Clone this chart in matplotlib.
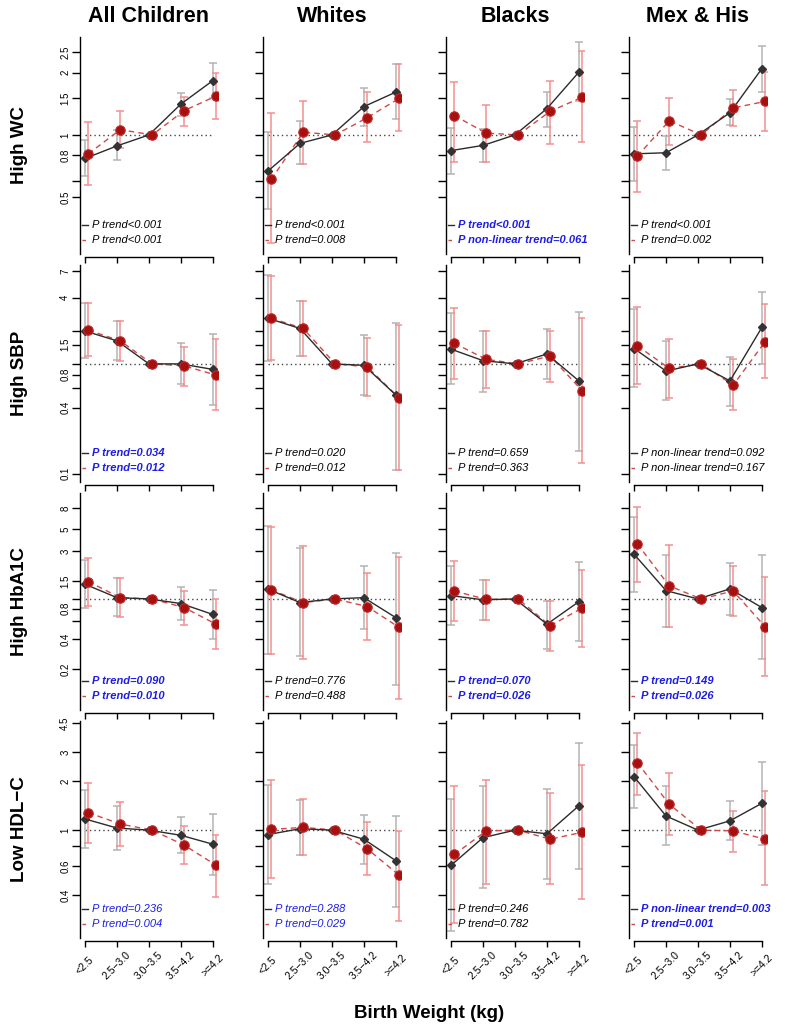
import numpy as np
import matplotlib
matplotlib.use("Agg")
import matplotlib.pyplot as plt
from matplotlib.ticker import FixedLocator, NullLocator

plt.rcParams['font.family'] = ['Liberation Sans', 'DejaVu Sans']

groups = ["All Children", "Whites", "Blacks", "Mex & His"]
outcomes = ["High WC", "High SBP", "High HbA1C", "Low HDL\u2212C"]
bw_labels = ["<2.5", "2.5\u22123.0", "3.0\u22123.5", "3.5\u22124.2", ">=4.2"]
_ = None  # reference category, no interval

# High WC -- model 1 (black) and model 2 (red), one list per group
wc_or1 = [[0.77, 0.885, 1, 1.41, 1.83], [0.67, 0.91, 1, 1.37, 1.61],
          [0.84, 0.89, 1, 1.34, 2.01], [0.81, 0.82, 1, 1.28, 2.09]]
wc_lo1 = [[0.63, 0.76, _, 1.24, 1.50], [0.44, 0.72, _, 1.11, 1.19],
          [0.65, 0.74, _, 1.09, 1.45], [0.60, 0.68, _, 1.12, 1.62]]
wc_hi1 = [[0.95, 1.06, _, 1.59, 2.22], [1.03, 1.17, _, 1.68, 2.20],
          [1.08, 1.07, _, 1.62, 2.82], [1.09, 0.99, _, 1.49, 2.69]]
wc_or2 = [[0.81, 1.06, 1, 1.31, 1.54], [0.61, 1.03, 1, 1.21, 1.50],
          [1.24, 1.02, 1, 1.30, 1.52], [0.79, 1.17, 1, 1.35, 1.45]]
wc_lo2 = [[0.57, 0.86, _, 1.11, 1.19], [0.30, 0.72, _, 0.92, 1.04],
          [0.74, 0.74, _, 0.90, 0.92], [0.53, 0.89, _, 1.10, 1.05]]
wc_hi2 = [[1.16, 1.31, _, 1.53, 1.99], [1.28, 1.45, _, 1.61, 2.20],
          [1.81, 1.40, _, 1.83, 2.53], [1.17, 1.50, _, 1.64, 2.02]]

# High SBP
sbp_or1 = [[1.99, 1.62, 1, 1.00, 0.89], [2.60, 2.10, 1, 0.97, 0.52],
           [1.36, 1.07, 1, 1.23, 0.70], [1.38, 0.86, 1, 0.70, 2.15]]
sbp_lo1 = [[1.14, 1.08, _, 0.65, 0.42], [1.07, 1.18, _, 0.52, 0.109],
           [0.65, 0.56, _, 0.73, 0.16], [0.61, 0.47, _, 0.41, 1.00]]
sbp_hi1 = [[3.56, 2.45, _, 1.54, 1.87], [6.40, 3.76, _, 1.83, 2.34],
           [2.88, 2.00, _, 2.06, 2.98], [3.14, 1.62, _, 1.16, 4.54]]
sbp_or2 = [[2.03, 1.62, 1, 0.96, 0.79], [2.60, 2.10, 1, 0.94, 0.49],
           [1.54, 1.10, 1, 1.18, 0.57], [1.46, 0.91, 1, 0.64, 1.59]]
sbp_lo2 = [[1.18, 1.07, _, 0.63, 0.38], [1.08, 1.18, _, 0.51, 0.107],
           [0.73, 0.60, _, 0.69, 0.126], [0.65, 0.49, _, 0.38, 0.74]]
sbp_hi2 = [[3.56, 2.47, _, 1.43, 1.67], [6.30, 3.76, _, 1.73, 2.25],
           [3.20, 2.00, _, 2.00, 2.60], [3.27, 1.70, _, 1.10, 3.48]]

# High HbA1C
hba_or1 = [[1.40, 1.03, 1, 0.90, 0.70], [1.25, 0.92, 1, 1.03, 0.65],
           [1.08, 0.98, 1, 0.56, 0.94], [2.79, 1.21, 1, 1.26, 0.82]]
hba_lo1 = [[0.82, 0.67, _, 0.62, 0.40], [0.28, 0.27, _, 0.50, 0.14],
           [0.55, 0.62, _, 0.32, 0.38], [1.18, 0.53, _, 0.69, 0.25]]
hba_hi1 = [[2.45, 1.61, _, 1.33, 1.23], [5.36, 3.20, _, 2.14, 2.90],
           [2.14, 1.55, _, 0.95, 2.32], [6.60, 2.75, _, 2.27, 2.75]]
hba_or2 = [[1.49, 1.03, 1, 0.82, 0.56], [1.23, 0.92, 1, 0.84, 0.52],
           [1.20, 0.99, 1, 0.54, 0.81], [3.54, 1.35, 1, 1.20, 0.53]]
hba_lo2 = [[0.86, 0.66, _, 0.55, 0.32], [0.28, 0.25, _, 0.39, 0.10],
           [0.60, 0.62, _, 0.30, 0.33], [1.49, 0.52, _, 0.67, 0.17]]
hba_hi2 = [[2.58, 1.62, _, 1.20, 1.00], [5.19, 3.40, _, 1.80, 2.64],
           [2.40, 1.55, _, 0.95, 1.95], [8.30, 3.46, _, 2.14, 1.64]]

# Low HDL-C
hdl_or1 = [[1.17, 1.03, 1, 0.93, 0.82], [0.94, 1.02, 1, 0.88, 0.65],
           [0.61, 0.90, 1, 0.95, 1.41], [2.12, 1.22, 1, 1.14, 1.46]]
hdl_lo1 = [[0.78, 0.76, _, 0.72, 0.53], [0.47, 0.70, _, 0.62, 0.34],
           [0.24, 0.44, _, 0.50, 0.58], [1.36, 0.81, _, 0.87, 0.81]]
hdl_hi1 = [[1.76, 1.40, _, 1.21, 1.25], [1.88, 1.52, _, 1.23, 1.22],
           [1.54, 1.86, _, 1.78, 3.41], [3.31, 1.86, _, 1.50, 2.61]]
hdl_or2 = [[1.28, 1.09, 1, 0.81, 0.61], [1.01, 1.04, 1, 0.77, 0.53],
           [0.71, 0.99, 1, 0.88, 0.97], [2.59, 1.44, 1, 0.99, 0.88]]
hdl_lo2 = [[0.84, 0.80, _, 0.62, 0.39], [0.51, 0.70, _, 0.53, 0.28],
           [0.27, 0.47, _, 0.47, 0.38], [1.65, 0.94, _, 0.74, 0.46]]
hdl_hi2 = [[1.93, 1.49, _, 1.06, 0.93], [2.02, 1.56, _, 1.12, 0.99],
           [1.86, 2.02, _, 1.68, 2.52], [3.95, 2.24, _, 1.31, 1.73]]

# p-value annotations; style 0 = black, 1 = blue, 2 = blue bold
wc_p = [("P trend<0.001", "P trend<0.001"), ("P trend<0.001", "P trend=0.008"),
        ("P trend<0.001", "P non-linear trend=0.061"), ("P trend<0.001", "P trend=0.002")]
sbp_p = [("P trend=0.034", "P trend=0.012"), ("P trend=0.020", "P trend=0.012"),
         ("P trend=0.659", "P trend=0.363"),
         ("P non-linear trend=0.092", "P non-linear trend=0.167")]
hba_p = [("P trend=0.090", "P trend=0.010"), ("P trend=0.776", "P trend=0.488"),
         ("P trend=0.070", "P trend=0.026"), ("P trend=0.149", "P trend=0.026")]
hdl_p = [("P trend=0.236", "P trend=0.004"), ("P trend=0.288", "P trend=0.029"),
         ("P trend=0.246", "P trend=0.782"),
         ("P non-linear trend=0.003", "P trend=0.001")]
wc_sig = [0, 0, 2, 0]
sbp_sig = [2, 0, 0, 0]
hba_sig = [2, 0, 2, 2]
hdl_sig = [1, 1, 0, 2]

wc_ticks = [0.5, 0.6, 0.8, 1, 1.5, 2, 2.5]
wc_tlab = ["0.5", "", "0.8", "1", "1.5", "2", "2.5"]
sbp_ticks = [0.1, 0.4, 0.6, 0.8, 1, 1.5, 2, 4, 7]
sbp_tlab = ["0.1", "0.4", "", "0.8", "", "1.5", "", "4", "7"]
hba_ticks = [0.2, 0.4, 0.6, 0.8, 1, 1.5, 3, 5, 8]
hba_tlab = ["0.2", "0.4", "", "0.8", "", "1.5", "3", "5", "8"]
hdl_ticks = [0.4, 0.6, 0.8, 1, 2, 3, 4.5]
hdl_tlab = ["0.4", "0.6", "", "1", "2", "3", "4.5"]

rows = [
    (wc_or1, wc_lo1, wc_hi1, wc_or2, wc_lo2, wc_hi2, wc_p, wc_sig, wc_ticks, wc_tlab, (0.266, 2.97)),
    (sbp_or1, sbp_lo1, sbp_hi1, sbp_or2, sbp_lo2, sbp_hi2, sbp_p, sbp_sig, sbp_ticks, sbp_tlab, (0.084, 7.95)),
    (hba_or1, hba_lo1, hba_hi1, hba_or2, hba_lo2, hba_hi2, hba_p, hba_sig, hba_ticks, hba_tlab, (0.078, 11.4)),
    (hdl_or1, hdl_lo1, hdl_hi1, hdl_or2, hdl_lo2, hdl_hi2, hdl_p, hdl_sig, hdl_ticks, hdl_tlab, (0.219, 4.65)),
]

W, H = 786, 1036
fig = plt.figure(figsize=(W / 100, H / 100), dpi=100)

C_BLK = '#2b2b2b'
C_BLK_ERR = '#b4b4b4'
C_RED = '#d04848'
C_RED_PT = '#a81010'
C_RED_ERR = '#f29090'
C_BLUE = '#1c1ce6'

xpos = np.arange(1, len(bw_labels) + 1)
shift = 0.1

for r, (or1, lo1, hi1, or2, lo2, hi2, ptxt, psig, yt, ytl, ylim) in enumerate(rows):
    for c in range(len(groups)):
        left = 80 + 183 * c
        top = 37 + 228 * r
        ax = fig.add_axes([left / W, 1 - (top + 217) / H, 138 / W, 217 / H])
        ax.set_yscale('log')
        ax.set_xlim(0.84, 5.16)
        ax.set_ylim(*ylim)

        # reference line at OR = 1
        ax.plot([xpos[0], xpos[-1] + 0.05], [1, 1], color='#444444', lw=1,
                ls=(0, (1, 2.2)), zorder=1)

        for est, lo, hi, dx, ecol in ((or1, lo1, hi1, 0.0, C_BLK_ERR),
                                      (or2, lo2, hi2, shift, C_RED_ERR)):
            e = np.array(est[c], dtype=float)
            l = np.array(lo[c], dtype=float)
            h = np.array(hi[c], dtype=float)
            m = ~np.isnan(l)
            ax.errorbar(xpos[m] + dx, e[m], yerr=[e[m] - l[m], h[m] - e[m]],
                        fmt='none', ecolor=ecol, elinewidth=1.1, capsize=3.2,
                        capthick=1.1, zorder=2)

        ax.plot(xpos, np.array(or1[c], dtype=float), color=C_BLK, lw=1.0,
                marker='D', ms=4.4, mfc='#333333', mec='#333333', zorder=4)
        ax.plot(xpos + shift, np.array(or2[c], dtype=float), color=C_RED, lw=1.0,
                ls=(0, (4, 3)), zorder=3)
        ax.plot(xpos + shift, np.array(or2[c], dtype=float), ls='none',
                marker='o', ms=6.8, mfc=C_RED_PT, mec='#c02a2a', mew=0.8, zorder=5)

        # axes styling
        for s in ('top', 'right'):
            ax.spines[s].set_visible(False)
        ax.spines['left'].set_linewidth(1.0)
        ax.spines['bottom'].set_linewidth(1.0)
        ax.spines['bottom'].set_bounds(xpos[0], xpos[-1])
        ax.spines['bottom'].set_position(('outward', 2.5))

        ax.yaxis.set_major_locator(FixedLocator(yt))
        ax.yaxis.set_minor_locator(NullLocator())
        ax.set_yticklabels(ytl if c == 0 else [''] * len(yt))
        ax.tick_params(axis='y', direction='out', length=5.5, width=1.0,
                       labelsize=7, pad=1.5, labelrotation=90)
        for t in ax.get_yticklabels():
            t.set_va('center')

        ax.set_xticks(xpos)
        ax.tick_params(axis='x', direction='out', length=4.5, width=1.0, pad=13)
        if r == len(rows) - 1:
            ax.set_xticklabels(bw_labels, rotation=45, ha='center', va='center',
                               rotation_mode='anchor', fontsize=7.5)
        else:
            ax.set_xticklabels([])

        # p-value legend
        sig = psig[c]
        col = C_BLUE if sig else 'black'
        wt = 'bold' if sig == 2 else 'normal'
        for k, (yy, txt) in enumerate(zip((0.134, 0.066), ptxt[c])):
            if k == 0:
                ax.plot([0.018, 0.06], [yy, yy], transform=ax.transAxes,
                        color=C_BLK, lw=1.0, clip_on=False)
            else:
                ax.plot([0.018, 0.06], [yy, yy], transform=ax.transAxes,
                        color=C_RED, lw=1.0, ls=(0, (2.5, 2)), clip_on=False)
            ax.text(0.085, yy, txt, transform=ax.transAxes, ha='left',
                    va='center', fontsize=8, style='italic', color=col,
                    weight=wt)

for c, g in enumerate(groups):
    fig.text((80 + 69 + 183 * c) / W, 1 - 17 / H, g, ha='center', va='center',
             fontsize=15.5, weight='bold')
for r, o in enumerate(outcomes):
    fig.text(20 / W, 1 - (37 + 108 + 228 * r) / H, o, ha='center', va='center',
             rotation=90, fontsize=13.5, weight='bold')
fig.text(429 / W, 1 - 1013 / H, "Birth Weight (kg)", ha='center', va='center',
         fontsize=13.5, weight='bold')

fig.savefig('out.png', dpi=100)
